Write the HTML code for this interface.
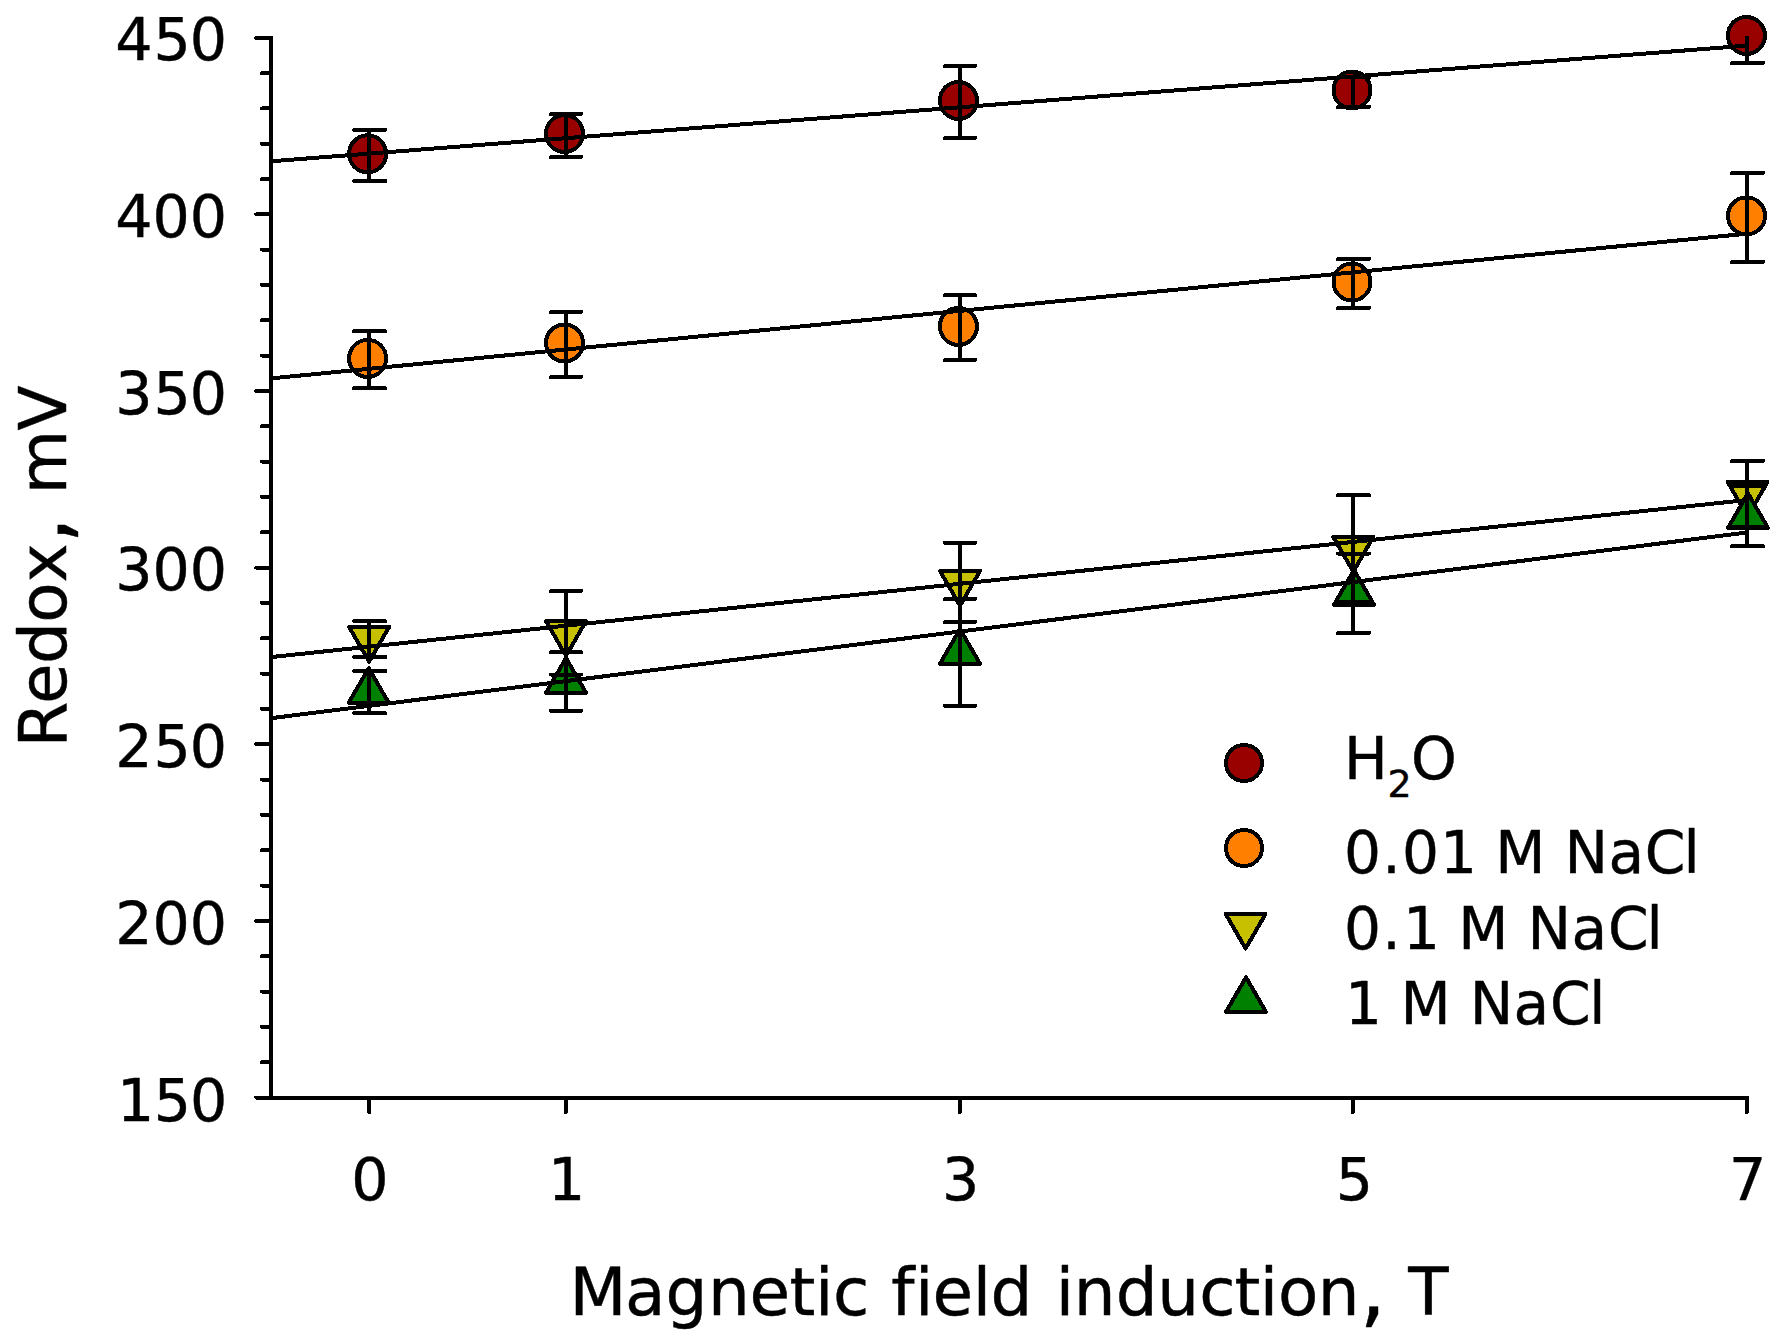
<!DOCTYPE html>
<html lang="en"><head><meta charset="utf-8"><title>Redox vs magnetic field induction</title>
<style>html,body{margin:0;padding:0;background:#fff;}body{width:1790px;height:1340px;overflow:hidden;}svg{display:block;}text{font-family:"DejaVu Sans", "Liberation Sans", sans-serif;fill:#000;stroke:#000;stroke-width:0.45px;stroke-linejoin:round;font-variant-ligatures:none;font-kerning:none;}</style>
</head><body>
<svg shape-rendering="crispEdges" width="1790" height="1340" viewBox="0 0 1790 1340">
<rect x="0" y="0" width="1790" height="1340" fill="#ffffff"/>
<defs><clipPath id="plot"><rect x="269" y="36" width="1480" height="1064"/></clipPath><clipPath id="ebclip"><rect x="0" y="36" width="1790" height="1304"/></clipPath></defs>
<g id="symbols">
<circle cx="367.6" cy="153.8" r="18.5" fill="#990000" stroke="#000" stroke-width="4"/>
<circle cx="564.5" cy="133.5" r="18.5" fill="#990000" stroke="#000" stroke-width="4"/>
<circle cx="958.4" cy="100.5" r="18.5" fill="#990000" stroke="#000" stroke-width="4"/>
<circle cx="1352.0" cy="90.0" r="18.5" fill="#990000" stroke="#000" stroke-width="4"/>
<circle cx="1746.4" cy="35.5" r="18.5" fill="#990000" stroke="#000" stroke-width="4"/>
<circle cx="367.6" cy="358.4" r="18.5" fill="#ff8000" stroke="#000" stroke-width="4"/>
<circle cx="564.5" cy="343.0" r="18.5" fill="#ff8000" stroke="#000" stroke-width="4"/>
<circle cx="958.4" cy="326.4" r="18.5" fill="#ff8000" stroke="#000" stroke-width="4"/>
<circle cx="1352.0" cy="282.0" r="18.5" fill="#ff8000" stroke="#000" stroke-width="4"/>
<circle cx="1746.5" cy="215.9" r="18.5" fill="#ff8000" stroke="#000" stroke-width="4"/>
<polygon points="349.1,627.0 389.1,627.0 369.1,661.6" fill="#c6c000" stroke="#000" stroke-width="4" stroke-linejoin="round"/>
<polygon points="546.0,621.2 586.0,621.2 566.0,655.8" fill="#c6c000" stroke="#000" stroke-width="4" stroke-linejoin="round"/>
<polygon points="940.0,571.0 980.0,571.0 960.0,605.7" fill="#c6c000" stroke="#000" stroke-width="4" stroke-linejoin="round"/>
<polygon points="1333.3,537.0 1373.3,537.0 1353.3,571.6" fill="#c6c000" stroke="#000" stroke-width="4" stroke-linejoin="round"/>
<polygon points="1727.6,481.9 1767.6,481.9 1747.6,516.5" fill="#c6c000" stroke="#000" stroke-width="4" stroke-linejoin="round"/>
<polygon points="348.7,702.8 388.7,702.8 368.7,668.2" fill="#008000" stroke="#000" stroke-width="4" stroke-linejoin="round"/>
<polygon points="546.0,692.7 586.0,692.7 566.0,658.1" fill="#008000" stroke="#000" stroke-width="4" stroke-linejoin="round"/>
<polygon points="940.0,663.7 980.0,663.7 960.0,629.1" fill="#008000" stroke="#000" stroke-width="4" stroke-linejoin="round"/>
<polygon points="1334.0,604.7 1374.0,604.7 1354.0,570.1" fill="#008000" stroke="#000" stroke-width="4" stroke-linejoin="round"/>
<polygon points="1728.0,527.9 1768.0,527.9 1748.0,493.3" fill="#008000" stroke="#000" stroke-width="4" stroke-linejoin="round"/>
</g>
<g id="errorbars" clip-path="url(#ebclip)" stroke="#000" stroke-width="4" fill="none">
<path d="M369.2 129.9V181.0" stroke-linecap="butt"/>
<path d="M354.2 129.9H385.2M354.2 181.0H385.2" stroke-linecap="round"/>
<path d="M566.0 114.0V157.0" stroke-linecap="butt"/>
<path d="M551.0 114.0H581.0M551.0 157.0H581.0" stroke-linecap="round"/>
<path d="M960.0 66.0V138.0" stroke-linecap="butt"/>
<path d="M945.0 66.0H975.0M945.0 138.0H975.0" stroke-linecap="round"/>
<path d="M1353.0 77.2V107.0" stroke-linecap="butt"/>
<path d="M1338.0 77.2H1369.0M1338.0 107.0H1369.0" stroke-linecap="round"/>
<path d="M1747.0 8.0V63.0" stroke-linecap="butt"/>
<path d="M1732.0 8.0H1763.0M1732.0 63.0H1763.0" stroke-linecap="round"/>
<path d="M369.0 331.1V388.1" stroke-linecap="butt"/>
<path d="M354.0 331.1H385.0M354.0 388.1H385.0" stroke-linecap="round"/>
<path d="M566.0 312.0V377.0" stroke-linecap="butt"/>
<path d="M551.0 312.0H581.0M551.0 377.0H581.0" stroke-linecap="round"/>
<path d="M960.0 295.1V360.0" stroke-linecap="butt"/>
<path d="M945.0 295.1H975.0M945.0 360.0H975.0" stroke-linecap="round"/>
<path d="M1353.0 259.0V308.0" stroke-linecap="butt"/>
<path d="M1338.0 259.0H1369.0M1338.0 308.0H1369.0" stroke-linecap="round"/>
<path d="M1747.0 173.0V262.0" stroke-linecap="butt"/>
<path d="M1732.0 173.0H1763.0M1732.0 262.0H1763.0" stroke-linecap="round"/>
<path d="M369.2 621.1V657.0" stroke-linecap="butt"/>
<path d="M354.2 621.1H385.2M354.2 657.0H385.2" stroke-linecap="round"/>
<path d="M566.0 591.0V674.6" stroke-linecap="butt"/>
<path d="M551.0 591.0H581.0M551.0 674.6H581.0" stroke-linecap="round"/>
<path d="M960.0 542.9V622.0" stroke-linecap="butt"/>
<path d="M945.0 542.9H975.0M945.0 622.0H975.0" stroke-linecap="round"/>
<path d="M1353.0 495.2V602.0" stroke-linecap="butt"/>
<path d="M1338.0 495.2H1369.0M1338.0 602.0H1369.0" stroke-linecap="round"/>
<path d="M1747.0 461.0V526.5" stroke-linecap="butt"/>
<path d="M1732.0 461.0H1763.0M1732.0 526.5H1763.0" stroke-linecap="round"/>
<path d="M369.2 671.0V713.1" stroke-linecap="butt"/>
<path d="M354.2 671.0H385.2M354.2 713.1H385.2" stroke-linecap="round"/>
<path d="M566.0 652.1V710.8" stroke-linecap="butt"/>
<path d="M551.0 652.1H581.0M551.0 710.8H581.0" stroke-linecap="round"/>
<path d="M960.0 599.0V705.9" stroke-linecap="butt"/>
<path d="M945.0 599.0H975.0M945.0 705.9H975.0" stroke-linecap="round"/>
<path d="M1353.0 553.5V633.0" stroke-linecap="butt"/>
<path d="M1338.0 553.5H1369.0M1338.0 633.0H1369.0" stroke-linecap="round"/>
<path d="M1747.0 486.0V546.2" stroke-linecap="butt"/>
<path d="M1732.0 486.0H1763.0M1732.0 546.2H1763.0" stroke-linecap="round"/>
</g>
<g id="fits" clip-path="url(#plot)" stroke="#000" stroke-width="4" fill="none">
<line x1="271.0" y1="161.3" x2="1747.0" y2="45.6"/>
<line x1="271.0" y1="378.4" x2="1747.0" y2="233.7"/>
<line x1="271.0" y1="657.1" x2="1747.0" y2="500.0"/>
<line x1="271.0" y1="718.2" x2="1747.0" y2="532.5"/>
</g>
<g id="axes" stroke="#000" stroke-width="4" fill="none" stroke-linecap="round">
<path d="M271.0 38.0V1097.5"/>
<path d="M256.5 1097.5H1747.0"/>
<path d="M256.2 1097.50H271.0M262.0 1062.17H271.0M262.0 1026.85H271.0M262.0 991.52H271.0M262.0 956.19H271.0M256.2 920.87H271.0M262.0 885.54H271.0M262.0 850.21H271.0M262.0 814.89H271.0M262.0 779.56H271.0M256.2 744.23H271.0M262.0 708.91H271.0M262.0 673.58H271.0M262.0 638.25H271.0M262.0 602.93H271.0M256.2 567.60H271.0M262.0 532.27H271.0M262.0 496.95H271.0M262.0 461.62H271.0M262.0 426.29H271.0M256.2 390.97H271.0M262.0 355.64H271.0M262.0 320.31H271.0M262.0 284.99H271.0M262.0 249.66H271.0M256.2 214.33H271.0M262.0 179.01H271.0M262.0 143.68H271.0M262.0 108.35H271.0M262.0 73.03H271.0M256.2 38.00H271.0"/>
<path d="M369.1 1097.5V1112.0M566.0 1097.5V1112.0M960.0 1097.5V1112.0M1353.0 1097.5V1112.0M1747.0 1097.5V1112.0"/>
</g>
<g id="yticklabels" font-size="58.6" text-anchor="end">
<text text-anchor="start" x="117.0 153.7 190.0" y="1120.7">150</text>
<text text-anchor="start" x="115.2 152.4 189.7" y="943.9">200</text>
<text text-anchor="start" x="115.2 153.4 189.7" y="767.1">250</text>
<text text-anchor="start" x="115.2 152.4 189.7" y="590.3">300</text>
<text text-anchor="start" x="115.2 153.4 189.7" y="413.6">350</text>
<text text-anchor="start" x="115.2 152.4 189.7" y="236.8">400</text>
<text text-anchor="start" x="115.2 153.4 189.7" y="60.0">450</text>
</g>
<g id="xticklabels" font-size="58.6" text-anchor="middle">
<text x="369.8" y="1200">0</text>
<text x="566.7" y="1200">1</text>
<text x="960.7" y="1200">3</text>
<text x="1354.5" y="1200">5</text>
<text x="1747.7" y="1200">7</text>
</g>
<text x="569.5 625.1 665.6 707.9 749.6 789.4 815.0 833.1 869.4 891.3 914.9 932.5 972.7 990.6 1032.5 1055.7 1073.7 1115.7 1157.2 1199.3 1234.5 1259.7 1278.0 1317.8 1359.5 1386.2 1408.2" y="1315.0" font-size="66.0" id="xlabel">Magnetic field induction<tspan font-size="84.0" dy="1.5">,</tspan><tspan dy="-1.5"> </tspan>T</text>
<text x="-5.6 37.7 77.7 119.0 159.4 198.4 225.1 247.6 311.2" y="0.0" font-size="66.0" id="ylabel" transform="translate(66,741.8) rotate(-90)">Redox<tspan font-size="84.0" dy="1.5">,</tspan><tspan dy="-1.5"> </tspan>mV</text>
<g id="legend">
<circle cx="1244.0" cy="763.0" r="18.0" fill="#990000" stroke="#000" stroke-width="4"/>
<circle cx="1244.0" cy="848.0" r="18.0" fill="#ff8000" stroke="#000" stroke-width="4"/>
<polygon points="1225.6,913.9 1265.6,913.9 1245.6,948.5" fill="#c6c000" stroke="#000" stroke-width="4" stroke-linejoin="round"/>
<polygon points="1226.0,1011.9 1266.0,1011.9 1246.0,977.3" fill="#008000" stroke="#000" stroke-width="4" stroke-linejoin="round"/>
<text y="779.0" font-size="58.2"><tspan x="1344.0">H</tspan><tspan x="1387.4" dy="18" font-size="38">2</tspan><tspan x="1411.1" dy="-18">O</tspan></text>
<text x="1343.9 1382.3 1402.1 1439.9 1477.0 1495.3 1545.5 1564.6 1608.5 1644.8 1683.5" y="872.8" font-size="58.2">0.01 M NaCl</text>
<text x="1344.0 1382.3 1403.0 1440.1 1458.3 1508.5 1527.5 1571.5 1607.9 1646.5" y="949.0" font-size="58.2">0.1 M NaCl</text>
<text x="1344.9 1382.0 1400.4 1450.6 1469.8 1513.4 1549.9 1589.3" y="1024.2" font-size="58.2">1 M NaCl</text>
</g>
</svg></body></html>
